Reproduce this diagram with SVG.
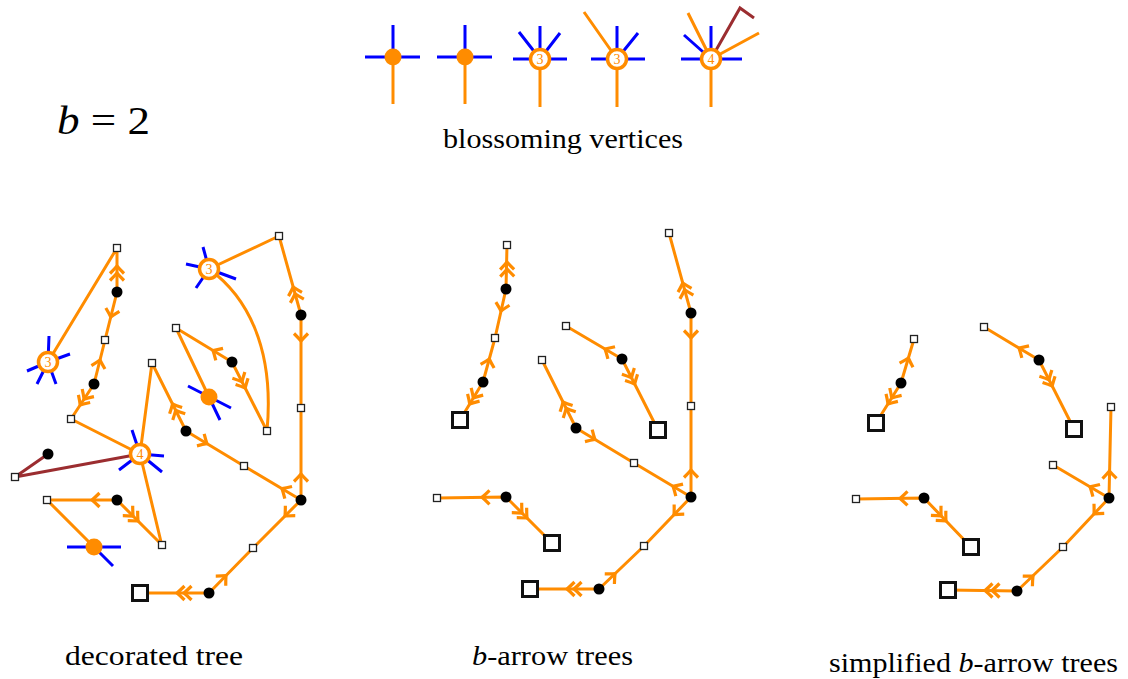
<svg xmlns="http://www.w3.org/2000/svg" xmlns:xlink="http://www.w3.org/1999/xlink" width="1128" height="679" viewBox="0 0 1128 679">
<style>
.o{stroke:#FF8C00;stroke-width:3;fill:none;stroke-linejoin:round}
.b{stroke:#0000FF;stroke-width:3;fill:none}
.r{stroke:#9B2D30;stroke-width:3;fill:none;stroke-linejoin:miter}
.s{fill:#fff;stroke:#222;stroke-width:1.3}
.S{fill:#fff;stroke:#111;stroke-width:3}
.d{fill:#000}
.od{fill:#FF8C00}
.c{fill:#fff;stroke:#FF8C00;stroke-width:3.5}
.n{font-size:14px;fill:#FF8C00;text-anchor:middle}
.t{font-size:27px;fill:#000}
.ah{stroke:#FF8C00;stroke-width:3.2;fill:none;stroke-linecap:butt;stroke-linejoin:miter}
</style>
<defs>
<path id="a1" class="ah" d="M-7.5 -7 Q-3 -2.5 0 0 Q-3 2.5 -7.5 7"/>
<path id="a2" class="ah" d="M-7.5 -7 Q-3 -2.5 0 0 Q-3 2.5 -7.5 7 M-14.5 -7 Q-10 -2.5 -7 0 Q-10 2.5 -14.5 7"/>
<rect id="sq" class="s" x="-3.5" y="-3.5" width="7" height="7"/>
<rect id="SQ" class="S" x="-7.5" y="-7.5" width="15" height="15"/>
<circle id="dt" class="d" r="5.5"/>
</defs>
<rect width="1128" height="679" fill="#fff"/>

<!-- titles -->
<g font-family="Liberation Serif, DejaVu Serif, serif">
<text class="t" x="57" y="134" font-size="40" style="font-size:40px" textLength="93" lengthAdjust="spacingAndGlyphs"><tspan font-style="italic">b</tspan> = 2</text>
<text class="t" x="443" y="148" textLength="240" lengthAdjust="spacingAndGlyphs">blossoming vertices</text>
<text class="t" x="65" y="665" textLength="178" lengthAdjust="spacingAndGlyphs">decorated tree</text>
<text class="t" x="472" y="665" textLength="161" lengthAdjust="spacingAndGlyphs"><tspan font-style="italic">b</tspan>-arrow trees</text>
<text class="t" x="829" y="672" textLength="289" lengthAdjust="spacingAndGlyphs">simplified <tspan font-style="italic">b</tspan>-arrow trees</text>
</g>

<!-- blossoming vertices -->
<g id="bv1">
<path class="b" d="M365 57H420M393 57V25"/><path class="o" d="M393 57V104"/><circle class="od" cx="393" cy="57" r="8.5"/>
</g>
<g id="bv2">
<path class="b" d="M437 57H492M465 57V25"/><path class="o" d="M465 57V104"/><circle class="od" cx="465" cy="57" r="8.5"/>
</g>
<g id="bv3">
<path class="b" d="M513 59H567M540 59V26M540 59L519 32M540 59L560 33"/><path class="o" d="M540 59V107"/><circle class="c" cx="540" cy="59" r="9.5"/><text class="n" font-family="Liberation Serif, DejaVu Serif, serif" x="540" y="64">3</text>
</g>
<g id="bv4">
<path class="b" d="M591 59H645M617 59V26M617 59L638 33"/><path class="o" d="M617 59L584 12M617 59V107"/><circle class="c" cx="617" cy="59" r="9.5"/><text class="n" font-family="Liberation Serif, DejaVu Serif, serif" x="617" y="64">3</text>
</g>
<g id="bv5">
<path class="b" d="M681 59H742M711 59V26M711 59L684 35"/><path class="o" d="M711 59L688 13M711 59L759 33M711 59V107"/><path class="r" d="M711 59L740 8L754 18"/><circle class="c" cx="711" cy="59" r="9.5"/><text class="n" font-family="Liberation Serif, DejaVu Serif, serif" x="711" y="64">4</text>
</g>

<!-- connectors -->
<g id="connectors">
<path class="o" d="M48 362L117 248L117 292L105 340L94 384L71 419L140 454"/>
<path class="o" d="M209 269L279 236L301 315L301 408L301 500"/>
<path class="o" d="M209 269C245 295 275 345 267 431"/>
<path class="o" d="M176 328L232 362L267 431M176 328L209 397"/>
<path class="o" d="M152 363L140 454M152 363L186 431L244 466L301 500L253 548L209 593L140 593"/>
<path class="o" d="M140 454L162 546M47 500L117 500L162 545M47 500L94 547"/>
<path class="r" d="M48 454L15 477L140 454"/>

<path class="o" d="M507 245L506 289L495 338L483 382L460 420"/>
<path class="o" d="M566 326L622 359L658 430"/>
<path class="o" d="M542 360L576 428L634 463L691 497"/>
<path class="o" d="M669 233L691 313L691 406L691 497L644 546L599 589L530 589"/>
<path class="o" d="M437 498L506 497L552 543"/>

<path class="o" d="M914 339L901 383L876 423"/>
<path class="o" d="M984 327L1039 360L1074 429"/>
<path class="o" d="M1111 407L1109 498L1063 547L1017 591L948 590M1053 465L1109 498"/>
<path class="o" d="M856 499L924 498L971 547"/>

<use href="#a2" transform="translate(117 266) rotate(-90)"/>
<use href="#a1" transform="translate(110.8 317) rotate(104)"/>
<use href="#a1" transform="translate(100 360) rotate(-76)"/>
<use href="#a2" transform="translate(80.2 405) rotate(123)"/>
<use href="#a2" transform="translate(293.2 287) rotate(-105.6)"/>
<use href="#a1" transform="translate(301 341) rotate(90)"/>
<use href="#a1" transform="translate(213 350.5) rotate(-148.7)"/>
<use href="#a2" transform="translate(245.2 388) rotate(63)"/>
<use href="#a2" transform="translate(172.5 404) rotate(-116.6)"/>
<use href="#a1" transform="translate(207 443.7) rotate(31)"/>
<use href="#a1" transform="translate(282 488.7) rotate(-149)"/>
<use href="#a1" transform="translate(301 474) rotate(-90)"/>
<use href="#a1" transform="translate(285 516) rotate(135)"/>
<use href="#a1" transform="translate(226 575.6) rotate(-45.6)"/>
<use href="#a2" transform="translate(177 593) rotate(180)"/>
<use href="#a1" transform="translate(92 500) rotate(180)"/>
<use href="#a2" transform="translate(138 521) rotate(45)"/>

<use href="#a2" transform="translate(507 262) rotate(-91)"/>
<use href="#a1" transform="translate(501 311) rotate(103)"/>
<use href="#a1" transform="translate(489.3 359) rotate(-75)"/>
<use href="#a2" transform="translate(469.7 404) rotate(121)"/>
<use href="#a1" transform="translate(605 349) rotate(-149.5)"/>
<use href="#a2" transform="translate(634.7 384) rotate(63)"/>
<use href="#a2" transform="translate(563 402) rotate(-116.6)"/>
<use href="#a1" transform="translate(595 439.5) rotate(31)"/>
<use href="#a1" transform="translate(673 486.3) rotate(-149)"/>
<use href="#a2" transform="translate(682.8 283) rotate(-105.4)"/>
<use href="#a1" transform="translate(691 338) rotate(90)"/>
<use href="#a1" transform="translate(691 470) rotate(-90)"/>
<use href="#a1" transform="translate(674 514.7) rotate(133.8)"/>
<use href="#a1" transform="translate(615 573.7) rotate(-43.7)"/>
<use href="#a2" transform="translate(567 589) rotate(180)"/>
<use href="#a1" transform="translate(482 497.3) rotate(180)"/>
<use href="#a2" transform="translate(527 518) rotate(45)"/>

<use href="#a1" transform="translate(908.4 358) rotate(-73.5)"/>
<use href="#a2" transform="translate(888 404) rotate(122)"/>
<use href="#a1" transform="translate(1019 348) rotate(-149)"/>
<use href="#a2" transform="translate(1052.2 386) rotate(63)"/>
<use href="#a1" transform="translate(1109.4 471) rotate(-91)"/>
<use href="#a1" transform="translate(1090 486.8) rotate(-149.5)"/>
<use href="#a1" transform="translate(1094 514) rotate(133)"/>
<use href="#a1" transform="translate(1033 576) rotate(-43.7)"/>
<use href="#a2" transform="translate(985 590.5) rotate(180)"/>
<use href="#a1" transform="translate(900 498.4) rotate(180)"/>
<use href="#a2" transform="translate(946 521) rotate(46.2)"/>
</g>

<!-- decorated tree nodes -->
<g id="dv3a"><path class="b" d="M48 362L49 336M48 362L70 354M48 362L27 371M48 362L37 384M48 362L56 384"/><circle class="c" cx="48" cy="362" r="9.5"/><text class="n" font-family="Liberation Serif, DejaVu Serif, serif" x="48" y="367">3</text></g>
<g id="dv3b"><path class="b" d="M209 269L203 247M209 269L186 264M209 269L236 279M209 269L196 288"/><circle class="c" cx="209" cy="269" r="9.5"/><text class="n" font-family="Liberation Serif, DejaVu Serif, serif" x="209" y="274">3</text></g>
<g id="dv4"><path class="b" d="M140 454L132 430M140 454L164 456M140 454L162 472M140 454L119 470"/><circle class="c" cx="140" cy="454" r="9.5"/><text class="n" font-family="Liberation Serif, DejaVu Serif, serif" x="140" y="459">4</text></g>
<g id="dvo1"><path class="b" d="M188 386L231 408M209 397L220 420"/><circle class="od" cx="209" cy="397" r="8.5"/></g>
<g id="dvo2"><path class="b" d="M67 547H121M94 547L113 566"/><circle class="od" cx="94" cy="547" r="8.5"/></g>
<g id="dn1"><use href="#sq" x="117" y="248"/></g>
<g id="dn2"><use href="#sq" x="279" y="236"/></g>
<g id="dn3"><use href="#sq" x="105" y="340"/></g>
<g id="dn4"><use href="#sq" x="176" y="328"/></g>
<g id="dn5"><use href="#sq" x="152" y="363"/></g>
<g id="dn6"><use href="#sq" x="71" y="419"/></g>
<g id="dn7"><use href="#sq" x="267" y="431"/></g>
<g id="dn8"><use href="#sq" x="301" y="408"/></g>
<g id="dn9"><use href="#sq" x="244" y="466"/></g>
<g id="dn10"><use href="#sq" x="15" y="477"/></g>
<g id="dn11"><use href="#sq" x="47" y="500"/></g>
<g id="dn12"><use href="#sq" x="162" y="545"/></g>
<g id="dn13"><use href="#sq" x="253" y="548"/></g>
<g id="dn14"><use href="#SQ" x="140" y="593"/></g>
<g id="dd1"><use href="#dt" x="117" y="292"/></g>
<g id="dd2"><use href="#dt" x="94" y="384"/></g>
<g id="dd3"><use href="#dt" x="301" y="315"/></g>
<g id="dd4"><use href="#dt" x="232" y="362"/></g>
<g id="dd5"><use href="#dt" x="186" y="431"/></g>
<g id="dd6"><use href="#dt" x="301" y="500"/></g>
<g id="dd7"><use href="#dt" x="209" y="593"/></g>
<g id="dd8"><use href="#dt" x="48" y="454"/></g>
<g id="dd9"><use href="#dt" x="117" y="500"/></g>

<!-- b-arrow trees nodes -->
<g id="bn1"><use href="#sq" x="507" y="245"/></g>
<g id="bn2"><use href="#sq" x="495" y="338"/></g>
<g id="bn3"><use href="#sq" x="566" y="326"/></g>
<g id="bn4"><use href="#sq" x="542" y="360"/></g>
<g id="bn5"><use href="#sq" x="669" y="233"/></g>
<g id="bn6"><use href="#sq" x="691" y="406"/></g>
<g id="bn7"><use href="#sq" x="634" y="463"/></g>
<g id="bn8"><use href="#sq" x="437" y="498"/></g>
<g id="bn9"><use href="#sq" x="644" y="546"/></g>
<g id="bN1"><use href="#SQ" x="460" y="420"/></g>
<g id="bN2"><use href="#SQ" x="658" y="430"/></g>
<g id="bN3"><use href="#SQ" x="552" y="543"/></g>
<g id="bN4"><use href="#SQ" x="530" y="589"/></g>
<g id="bd1"><use href="#dt" x="506" y="289"/></g>
<g id="bd2"><use href="#dt" x="483" y="382"/></g>
<g id="bd3"><use href="#dt" x="622" y="359"/></g>
<g id="bd4"><use href="#dt" x="576" y="428"/></g>
<g id="bd5"><use href="#dt" x="691" y="313"/></g>
<g id="bd6"><use href="#dt" x="691" y="497"/></g>
<g id="bd7"><use href="#dt" x="506" y="497"/></g>
<g id="bd8"><use href="#dt" x="599" y="589"/></g>

<!-- simplified nodes -->
<g id="sn1"><use href="#sq" x="914" y="339"/></g>
<g id="sn2"><use href="#sq" x="984" y="327"/></g>
<g id="sn3"><use href="#sq" x="1111" y="407"/></g>
<g id="sn4"><use href="#sq" x="1053" y="465"/></g>
<g id="sn5"><use href="#sq" x="856" y="499"/></g>
<g id="sn6"><use href="#sq" x="1063" y="547"/></g>
<g id="sN1"><use href="#SQ" x="876" y="423"/></g>
<g id="sN2"><use href="#SQ" x="1074" y="429"/></g>
<g id="sN3"><use href="#SQ" x="971" y="547"/></g>
<g id="sN4"><use href="#SQ" x="948" y="590"/></g>
<g id="sd1"><use href="#dt" x="901" y="383"/></g>
<g id="sd2"><use href="#dt" x="1039" y="360"/></g>
<g id="sd3"><use href="#dt" x="1109" y="498"/></g>
<g id="sd4"><use href="#dt" x="924" y="498"/></g>
<g id="sd5"><use href="#dt" x="1017" y="591"/></g>
</svg>
